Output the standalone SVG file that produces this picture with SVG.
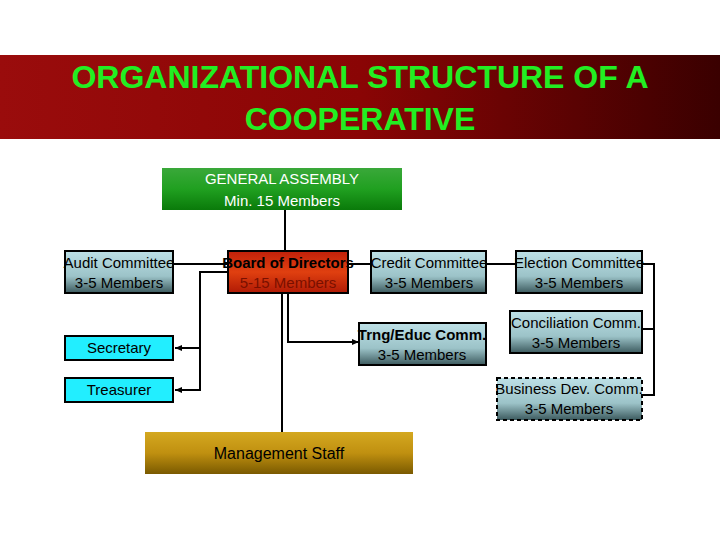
<svg xmlns="http://www.w3.org/2000/svg" width="720" height="540" viewBox="0 0 720 540">
<defs>
<linearGradient id="title" x1="0" y1="0" x2="1" y2="0"><stop offset="0" stop-color="#9a0c0c"/><stop offset="0.5" stop-color="#8a0505"/><stop offset="1" stop-color="#3a0000"/></linearGradient>
<linearGradient id="gray" x1="0" y1="0" x2="0" y2="1"><stop offset="0" stop-color="#bde0e6"/><stop offset="0.6" stop-color="#9cc3c8"/><stop offset="1" stop-color="#3c5a5e"/></linearGradient>
<linearGradient id="red" x1="0" y1="0" x2="0" y2="1"><stop offset="0" stop-color="#c0200a"/><stop offset="0.5" stop-color="#e04010"/><stop offset="1" stop-color="#b01a05"/></linearGradient>
<linearGradient id="green" x1="0" y1="0" x2="0" y2="1"><stop offset="0" stop-color="#3aa83a"/><stop offset="0.5" stop-color="#20a020"/><stop offset="1" stop-color="#0a7a0a"/></linearGradient>
<linearGradient id="gold" x1="0" y1="0" x2="0" y2="1"><stop offset="0" stop-color="#d4a820"/><stop offset="0.5" stop-color="#c09010"/><stop offset="1" stop-color="#7a5a00"/></linearGradient>
<marker id="arr" markerWidth="8" markerHeight="8" refX="7" refY="4" orient="auto" markerUnits="userSpaceOnUse"><path d="M0,1 L7,4 L0,7 Z" fill="#000"/></marker>
<style>
text{font-family:"Liberation Sans",Arial,sans-serif;font-size:15px;text-anchor:middle;fill:#000}
.box{stroke:#000;stroke-width:2}
.ln{stroke:#000;stroke-width:2;fill:none}
</style>
</defs>
<rect width="720" height="540" fill="#fff"/>
<rect x="0" y="55" width="720" height="84" fill="url(#title)"/>
<text x="360" y="88" style="font-size:32px;font-weight:bold;fill:#22ee22">ORGANIZATIONAL STRUCTURE OF A</text>
<text x="360" y="130" style="font-size:32px;font-weight:bold;fill:#22ee22">COOPERATIVE</text>
<g id="connectors">
<path class="ln" d="M285,210 V251"/>
<path class="ln" d="M173,264 H516"/>
<path class="ln" d="M642,264 H654 V395 H642 M654,329 H642"/>
<path class="ln" d="M228,272 H200 V390 H175" marker-end="url(#arr)"/>
<path class="ln" d="M200,348 H175" marker-end="url(#arr)"/>
<path class="ln" d="M282,293 V432"/>
<path class="ln" d="M288,293 V342 H359" marker-end="url(#arr)"/>
</g>
<g id="ga"><rect x="162" y="168" width="240" height="42" fill="url(#green)"/><text x="282" y="184" style="fill:#fff">GENERAL ASSEMBLY</text><text x="282" y="206" style="fill:#fff">Min. 15 Members</text></g>
<g id="audit"><rect class="box" x="65" y="251" width="108" height="42" fill="url(#gray)"/><text x="119" y="268">Audit Committee</text><text x="119" y="288">3-5 Members</text></g>
<g id="board"><rect class="box" x="228" y="251" width="120" height="42" fill="url(#red)"/><text x="288" y="268" style="font-weight:bold">Board of Directors</text><text x="288" y="288" style="fill:#7a1000">5-15 Members</text></g>
<g id="credit"><rect class="box" x="371" y="251" width="115" height="42" fill="url(#gray)"/><text x="429" y="268">Credit Committee</text><text x="429" y="288">3-5 Members</text></g>
<g id="election"><rect class="box" x="516" y="251" width="126" height="42" fill="url(#gray)"/><text x="579" y="268">Election Committee</text><text x="579" y="288">3-5 Members</text></g>
<g id="concil"><rect class="box" x="510" y="311" width="132" height="42" fill="url(#gray)"/><text x="576" y="328">Conciliation Comm.</text><text x="576" y="348">3-5 Members</text></g>
<g id="trng"><rect class="box" x="359" y="323" width="127" height="42" fill="url(#gray)"/><text x="422" y="340" style="font-weight:bold">Trng/Educ Comm.</text><text x="422" y="360">3-5 Members</text></g>
<g id="business"><rect class="box" x="497" y="378" width="145" height="42" fill="url(#gray)" stroke-dasharray="4,3"/><text x="569" y="394">Business Dev. Comm.</text><text x="569" y="414">3-5 Members</text></g>
<g id="secretary"><rect class="box" x="65" y="336" width="108" height="24" fill="#22eeff"/><text x="119" y="353">Secretary</text></g>
<g id="treasurer"><rect class="box" x="65" y="378" width="108" height="24" fill="#22eeff"/><text x="119" y="395">Treasurer</text></g>
<g id="staff"><rect x="145" y="432" width="268" height="42" fill="url(#gold)"/><text x="279" y="459" style="font-size:16px">Management Staff</text></g>
</svg>
